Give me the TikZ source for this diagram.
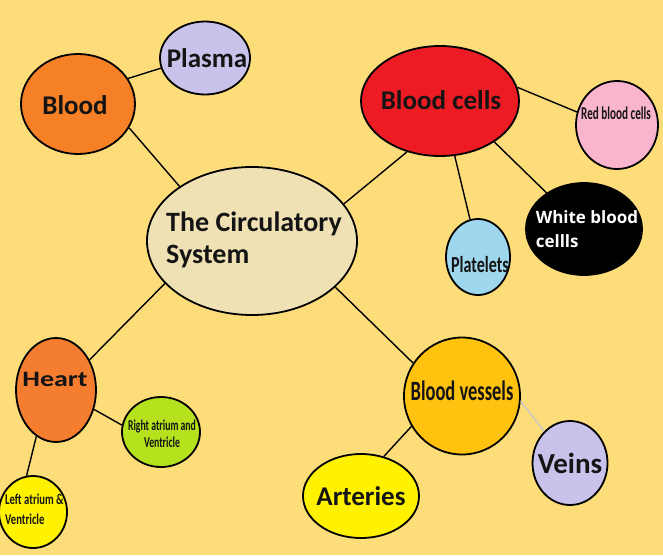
\documentclass[tikz,border=0pt]{standalone}
\usepackage{fontspec}
\setmainfont{Carlito}
\newfontfamily\opensans{Open Sans}
\usetikzlibrary{shapes.geometric}
\definecolor{bg}{HTML}{FDDC7A}
\definecolor{cCenter}{HTML}{EFE1B4}
\definecolor{cBlood}{HTML}{F58025}
\definecolor{cLav}{HTML}{C9C2EA}
\definecolor{cRed}{HTML}{ED1C24}
\definecolor{cPink}{HTML}{F9B5CD}
\definecolor{cPlate}{HTML}{9FD8EE}
\definecolor{cHeart}{HTML}{F47D30}
\definecolor{cLime}{HTML}{B5E21D}
\definecolor{cYel}{HTML}{FFF200}
\definecolor{cGold}{HTML}{FFC20E}
\definecolor{cGrey}{HTML}{C8C8C8}
\begin{document}
\begin{tikzpicture}[x=1pt,y=-1pt,
  bub/.style={ellipse,draw=black,line width=1.8pt,inner sep=0pt},
  lab/.style={inner sep=0pt,text=black!92,font=\bfseries\fontsize{#1}{#1}\selectfont},
  link/.style={draw=black,line width=1.4pt}]
\fill[bg] (0,0) rectangle (663,555);
\useasboundingbox (0,0) rectangle (663,555);
\clip (0,0) rectangle (663,555);
% bubbles
\node[bub,fill=cCenter,minimum width=210pt,minimum height=148pt] (center) at (252,241) {};
\node[bub,fill=cBlood,minimum width=114pt,minimum height=100pt] (blood) at (78,104) {};
\node[bub,fill=cLav,minimum width=90pt,minimum height=73pt] (plasma) at (205,58) {};
\node[bub,fill=cRed,minimum width=158pt,minimum height=110pt] (cells) at (440,101) {};
\node[bub,fill=cPink,minimum width=82pt,minimum height=88pt] (rbc) at (617,125) {};
\node[bub,fill=black,minimum width=116pt,minimum height=92pt] (wbc) at (584,229) {};
\node[bub,fill=cPlate,minimum width=64pt,minimum height=76pt] (plate) at (478,257) {};
\node[bub,fill=cHeart,minimum width=80pt,minimum height=104pt] (heart) at (56,390) {};
\node[bub,fill=cLime,minimum width=78pt,minimum height=70pt] (right) at (161,432) {};
\node[bub,fill=cYel,minimum width=68pt,minimum height=72pt] (left) at (33,512) {};
\node[bub,fill=cGold,minimum width=116pt,minimum height=117pt] (vessels) at (462,396) {};
\node[bub,fill=cLav,minimum width=75pt,minimum height=84pt] (veins) at (570,463) {};
\node[bub,fill=cYel,minimum width=116pt,minimum height=84pt] (arteries) at (361,496) {};
% connectors
\draw[link] (blood.-25) -- (center.143);
\draw[link] (plasma.-167) -- (blood.27);
\draw[link] (center.22) -- (cells.-123);
\draw[link] (cells.10) -- (rbc.162);
\draw[link] (cells.-37) -- (wbc.136);
\draw[link] (cells.-75) -- (plate.102);
\draw[link] (center.-154) -- (heart.42);
\draw[link] (heart.-27) -- (right.170);
\draw[link] (heart.-113) -- (left.100);
\draw[link] (center.-29) -- (vessels.146);
\draw[draw=cGrey,line width=1.4pt] (vessels.-5) -- (veins.129);
\draw[link] (vessels.-149) -- (arteries.60);
% texts
\node[lab=28,align=left] (tcenter) at (254,240) {The Circulatory\\[4pt]System};
\node[lab=27] (tblood) at (75,105) {Blood};
\node[lab=27] (tplasma) at (207,58) {Plasma};
\node[lab=27] (tcells) at (441,100) {Blood cells};
\node[lab=18] (trbc) at (616,113) {\scalebox{0.62}[1]{Red blood cells}};
\node[lab=18,text=white,align=left,font=\opensans\bfseries\fontsize{17}{24}\selectfont] (twbc) at (587,229) {White blood\\cellls};
\node[lab=23] (tplate) at (480,265) {\scalebox{0.7}[1]{Platelets}};
\node[lab=22] (theart) at (55,379) {\scalebox{1.27}[1]{Heart}};
\node[lab=15,align=center] (tright) at (162,434) {\scalebox{0.65}[1]{Right atrium and}\\[2pt]\scalebox{0.65}[1]{Ventricle}};
\node[lab=15,align=left,anchor=west] (tleft) at (5,509) {\scalebox{0.71}[1]{Left atrium \&}\\[5pt]\scalebox{0.71}[1]{Ventricle}};
\node[lab=28] (tvessels) at (462,391) {\scalebox{0.66}[1]{Blood vessels}};
\node[lab=29] (tveins) at (570,463) {Veins};
\node[lab=27] (tarteries) at (361,496) {Arteries};
\end{tikzpicture}
\end{document}
